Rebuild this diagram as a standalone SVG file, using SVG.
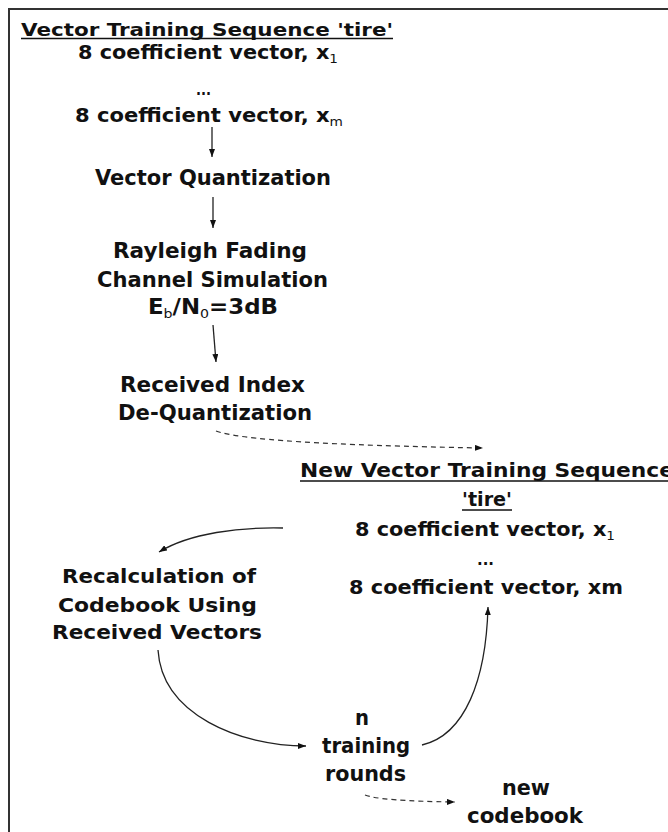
<svg xmlns="http://www.w3.org/2000/svg" width="668" height="832" viewBox="0 0 668 832">
  <defs>
    <style>
      text { font-family: "DejaVu Sans", "Liberation Sans", Arial, sans-serif; font-weight: bold; fill: #111; font-size: 20px; }
      .title { font-size: 18px; }
      .big { font-size: 21px; }
      .sub { font-weight: normal; font-size: 13px; }
      .dots { font-size: 15px; }
      .ul { stroke: #111; stroke-width: 1.4; }
      .edge { fill: none; stroke: #222; stroke-width: 1.3; }
      .dash { fill: none; stroke: #333; stroke-width: 1.2; stroke-dasharray: 5 4; }
    </style>
    <marker id="head" viewBox="0 0 8 6" refX="8" refY="3" markerWidth="8" markerHeight="6" markerUnits="userSpaceOnUse" orient="auto">
      <path d="M0,0 L8,3 L0,6 z" fill="#111"/>
    </marker>
  </defs>

  <rect width="668" height="832" fill="#fff"/>
  <!-- frame: only top and left edges fall inside the canvas -->
  <path d="M9,832 V9 H668" fill="none" stroke="#333" stroke-width="2"/>

  <g id="training-sequence">
    <text class="title" x="21" y="35.5" textLength="372" lengthAdjust="spacingAndGlyphs">Vector Training Sequence 'tire'</text>
    <line class="ul" x1="21" y1="38.5" x2="393" y2="38.5"/>
    <text x="78" y="59" textLength="260" lengthAdjust="spacingAndGlyphs">8 coefficient vector, x<tspan class="sub" dy="4">1</tspan></text>
    <text class="dots" x="196" y="95" textLength="15" lengthAdjust="spacingAndGlyphs">...</text>
    <text x="75" y="122" textLength="268" lengthAdjust="spacingAndGlyphs">8 coefficient vector, x<tspan class="sub" dy="4">m</tspan></text>
  </g>

  <g id="vector-quantization">
    <text class="big" x="95" y="185" textLength="236" lengthAdjust="spacingAndGlyphs">Vector Quantization</text>
  </g>

  <g id="channel-simulation">
    <text class="big" x="113" y="258" textLength="194" lengthAdjust="spacingAndGlyphs">Rayleigh Fading</text>
    <text class="big" x="97" y="287" textLength="231" lengthAdjust="spacingAndGlyphs">Channel Simulation</text>
    <text class="big" x="148" y="314" textLength="130" lengthAdjust="spacingAndGlyphs">E<tspan class="sub" dy="4">b</tspan><tspan dy="-4">/N</tspan><tspan class="sub" dy="4">0</tspan><tspan dy="-4">=3dB</tspan></text>
  </g>

  <g id="dequantization">
    <text class="big" x="120" y="392" textLength="185" lengthAdjust="spacingAndGlyphs">Received Index</text>
    <text class="big" x="118" y="420" textLength="194" lengthAdjust="spacingAndGlyphs">De-Quantization</text>
  </g>

  <g id="new-training-sequence">
    <text x="300" y="477" textLength="374" lengthAdjust="spacingAndGlyphs">New Vector Training Sequence</text>
    <line class="ul" x1="300" y1="481" x2="668" y2="481"/>
    <text x="462" y="506" textLength="50" lengthAdjust="spacingAndGlyphs">'tire'</text>
    <line class="ul" x1="462" y1="510" x2="512" y2="510"/>
    <text x="355" y="536" textLength="260" lengthAdjust="spacingAndGlyphs">8 coefficient vector, x<tspan class="sub" dy="4">1</tspan></text>
    <text class="dots" x="477" y="565" textLength="17" lengthAdjust="spacingAndGlyphs">...</text>
    <text x="349" y="594" textLength="274" lengthAdjust="spacingAndGlyphs">8 coefficient vector, xm</text>
  </g>

  <g id="recalculation">
    <text x="62" y="583" textLength="194" lengthAdjust="spacingAndGlyphs">Recalculation of</text>
    <text x="58" y="612" textLength="199" lengthAdjust="spacingAndGlyphs">Codebook Using</text>
    <text x="52" y="639" textLength="210" lengthAdjust="spacingAndGlyphs">Received Vectors</text>
  </g>

  <g id="training-rounds">
    <text class="big" x="355" y="725" textLength="14" lengthAdjust="spacingAndGlyphs">n</text>
    <text class="big" x="322" y="753" textLength="88" lengthAdjust="spacingAndGlyphs">training</text>
    <text class="big" x="325" y="781" textLength="81" lengthAdjust="spacingAndGlyphs">rounds</text>
  </g>

  <g id="new-codebook">
    <text class="big" x="502" y="795" textLength="48" lengthAdjust="spacingAndGlyphs">new</text>
    <text class="big" x="467" y="823" textLength="116" lengthAdjust="spacingAndGlyphs">codebook</text>
  </g>

  <g id="connectors">
    <line class="edge" x1="212" y1="127" x2="212" y2="157" marker-end="url(#head)"/>
    <line class="edge" x1="213" y1="197" x2="213" y2="228" marker-end="url(#head)"/>
    <line class="edge" x1="213" y1="325" x2="216" y2="362" marker-end="url(#head)"/>
    <path class="dash" d="M216,431 Q250,444 483,448" marker-end="url(#head)"/>
    <path class="edge" d="M283,528 C240,527 190,533 159,552" marker-end="url(#head)"/>
    <path class="edge" d="M158,650 C162,715 240,746 306,746" marker-end="url(#head)"/>
    <path class="edge" d="M422,745 C465,735 486,680 488,607" marker-end="url(#head)"/>
    <path class="dash" d="M365,795 Q380,801 455,802" marker-end="url(#head)"/>
  </g>
</svg>
